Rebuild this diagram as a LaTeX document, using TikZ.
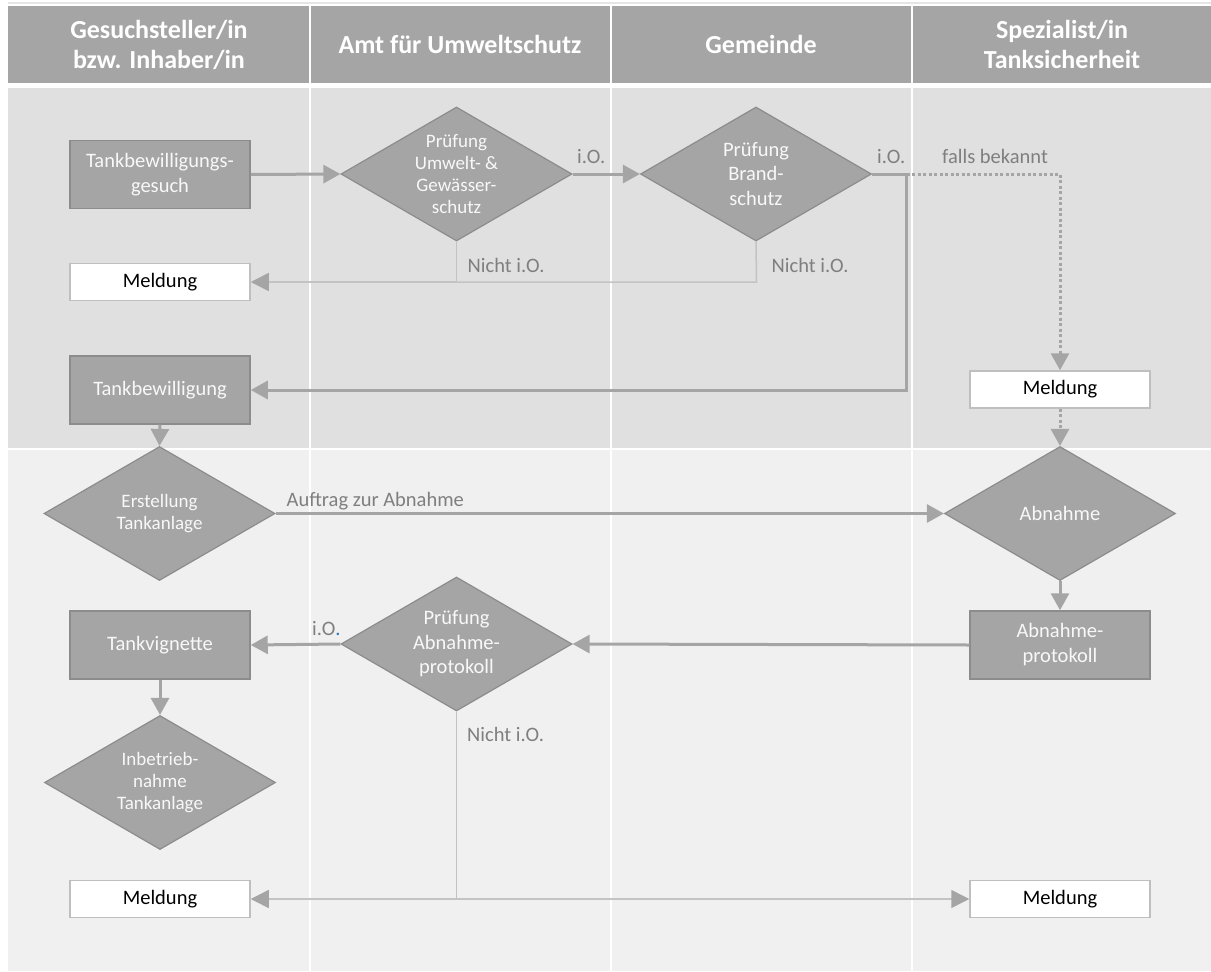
\documentclass[tikz,border=0pt]{standalone}
\usepackage{fontspec}
\setmainfont{Carlito}
\usetikzlibrary{shapes.geometric,arrows.meta}
\definecolor{hdr}{HTML}{A5A5A5}
\definecolor{bandA}{HTML}{E0E0E0}
\definecolor{bandB}{HTML}{F0F0F0}
\definecolor{nodefill}{HTML}{A5A5A5}
\definecolor{nodeline}{HTML}{8C8C8C}
\definecolor{msgline}{HTML}{BFBFBF}
\definecolor{arr}{HTML}{A5A5A5}
\definecolor{thinl}{HTML}{C3C3C3}
\definecolor{lbl}{HTML}{7F7F7F}
\definecolor{boxtext}{HTML}{F8F8F8}
\definecolor{dotblue}{HTML}{2E75B6}
\begin{document}
\begin{tikzpicture}[x=1pt,y=-1pt,
  hdrtext/.style={text=white,font=\bfseries\fontsize{26}{30}\selectfont,align=center},
  procbox/.style={rectangle,draw=nodeline,line width=1.5pt,fill=nodefill,text=boxtext,
     minimum width=180pt,minimum height=68pt,inner sep=0pt,align=center,
     font=\fontsize{20.5}{25}\selectfont},
  msgbox/.style={rectangle,draw=msgline,line width=1.5pt,fill=white,text=black,
     minimum width=180pt,minimum height=37pt,inner sep=0pt,align=center,
     font=\fontsize{20.5}{25}\selectfont},
  decision/.style={diamond,draw=nodeline,line width=1.2pt,fill=nodefill,
     minimum width=231pt,minimum height=134pt,inner sep=0pt},
  dtxt/.style={text=boxtext,align=center,font=\fontsize{19}{22}\selectfont},
  dtxtb/.style={text=boxtext,align=center,font=\fontsize{20.5}{24.5}\selectfont},
  lab/.style={text=lbl,font=\fontsize{20.5}{24}\selectfont,inner sep=0pt,anchor=base west},
  thickarrow/.style={draw=arr,line width=3pt,-{Triangle[length=17pt,width=18pt]}},
  thickline/.style={draw=arr,line width=3pt},
  thinarrow/.style={draw=thinl,line width=1.5pt,-{Triangle[length=18pt,width=18pt,color=arr]}},
  thinline/.style={draw=thinl,line width=1.5pt},
  dotarrow/.style={draw=arr,line width=3pt,dash pattern=on 3pt off 2.5pt,
     -{Triangle[length=17pt,width=18pt]}},
  dotline/.style={draw=arr,line width=3pt,dash pattern=on 3pt off 2.5pt},
]
\useasboundingbox (0,0) rectangle (1211,972);
\fill[white] (0,0) rectangle (1211,972);
% background: header and bands
\draw[color=black!10,line width=1.2pt] (8,3) -- (1211,3);
\fill[hdr] (8,6) rectangle (1211,83);
\fill[bandA] (8,88) rectangle (1211,448);
\fill[bandB] (8,450) rectangle (1211,971);
\foreach \xx in {310,611,912}{
  \draw[white,line width=1.8pt] (\xx,6) -- (\xx,971);
}
% header texts
\node[hdrtext] (h1) at (159,44.5) {Gesuchsteller/in\\bzw. Inhaber/in};
\node[hdrtext] (h2) at (460,44.5) {Amt für Umweltschutz};
\node[hdrtext] (h3) at (761,44.5) {Gemeinde};
\node[hdrtext] (h4) at (1062,44.5) {Spezialist/in\\Tanksicherheit};

% nodes
\node[procbox] (gesuch) at (160,174.5) {Tankbewilligungs-\\gesuch};
\node[decision,label={[dtxt]center:{Prüfung\\Umwelt- \&\\Gewässer-\\schutz}}] (umwelt) at (456.5,174) {};
\node[decision,label={[dtxtb]center:{Prüfung\\Brand-\\schutz}}] (brand) at (756,174) {};
\node[msgbox] (meld1) at (160,282) {Meldung};
\node[procbox] (bew) at (160,390) {Tankbewilligung};
\node[msgbox] (meld2) at (1060,389.5) {Meldung};
\node[decision,label={[dtxt]center:{Erstellung\\Tankanlage}}] (erst) at (159.5,513.5) {};
\node[decision,label={[dtxtb]center:{Abnahme}}] (abn) at (1060,513.5) {};
\node[procbox] (prot) at (1060,645) {Abnahme-\\protokoll};
\node[decision,label={[dtxtb]center:{Prüfung\\Abnahme-\\protokoll}}] (pruef) at (456.5,644) {};
\node[procbox] (vign) at (160,645) {Tankvignette};
\node[decision,label={[dtxt]center:{Inbetrieb-\\nahme\\Tankanlage}}] (inbetr) at (160,782.5) {};
\node[msgbox] (meld3) at (160,899) {Meldung};
\node[msgbox] (meld4) at (1060,899) {Meldung};

% helper coordinates
\coordinate (split) at (906.5,174);
\coordinate (j1) at (456.5,282);
\coordinate (j2) at (756.5,282);
\coordinate (j3) at (456.5,899);

% connectors
\draw[thickarrow] (gesuch.east) -- (umwelt.west);
\draw[thickarrow] (umwelt.east) -- (brand.west);
\draw[thickline] (brand.east) -- (split);
\draw[thickarrow] (split) |- (bew.east);
\draw[dotarrow] (split) -| (meld2.north);
\draw[thinline] (umwelt.south) -- (j1);
\draw[thinline] (brand.south) -- (j2) -- (j1);
\draw[thinarrow] (j1) -- (meld1.east);
\draw[thickarrow] (bew.south) -- (erst.north);
\draw[dotarrow] (meld2.south) -- (abn.north);
\draw[thickarrow] (erst.east) -- (abn.west);
\draw[thickarrow] (abn.south) -- (prot.north);
\draw[thickarrow] (prot.west) -- (pruef.east);
\draw[thickarrow] (pruef.west) -- (vign.east);
\draw[thickarrow] (vign.south) -- (inbetr.north);
\draw[thinline] (pruef.south) -- (j3);
\draw[thinarrow] (j3) -- (meld3.east);
\draw[thinarrow] (j3) -- (meld4.west);

% labels
\node[lab] (l1) at (577,163) {i.O.};
\node[lab] (l2) at (877,163) {i.O.};
\node[lab] (l3) at (942,163) {falls bekannt};
\node[lab] (l4) at (467.5,272) {Nicht i.O.};
\node[lab] (l5) at (771.5,272) {Nicht i.O.};
\node[lab] (l6) at (286.5,506) {Auftrag zur Abnahme};
\node[lab] (l7) at (312,635) {i.O{\color{dotblue}.}};
\node[lab] (l8) at (467,741) {Nicht i.O.};
\end{tikzpicture}
\end{document}
